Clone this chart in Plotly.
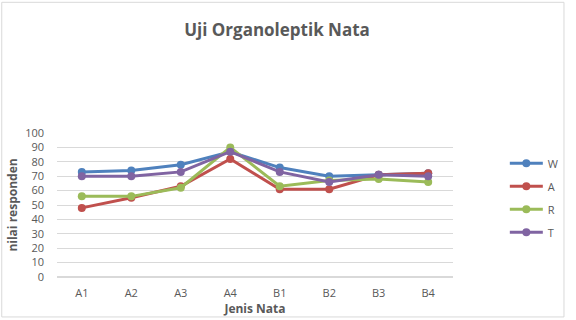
import plotly.graph_objects as go

categories = ["A1", "A2", "A3", "A4", "B1", "B2", "B3", "B4"]
W = [73, 74, 78, 87, 76, 70, 71, 72]
A = [48, 55, 63, 82, 61, 61, 71, 72]
R = [56, 56, 62, 90, 63, 67, 68, 66]
T = [70, 70, 73, 87, 73, 66, 71, 70]
series = [("W", W, "#4F81BD"), ("A", A, "#C0504D"), ("R", R, "#9BBB59"), ("T", T, "#8064A2")]

fig = go.Figure()
for i, (name, vals, col) in enumerate(series):
    fig.add_trace(go.Scatter(x=categories, y=vals, name=name, mode="lines+markers",
                             line=dict(color=col, width=3), marker=dict(color=col, size=8),
                             legendgroup=name))

L, Rm, Tm, B = 57, 114, 133, 41
W_px, H_px = 576 - L - Rm, 320 - Tm - B

fig.update_layout(
    width=576, height=320,
    margin=dict(l=L, r=Rm, t=Tm, b=B),
    paper_bgcolor="white", plot_bgcolor="white",
    font=dict(family="Open Sans", color="#595959", size=11),
    title=dict(text="<b>Uji Organoleptik Nata</b>", x=(282 - L) / W_px, xref="paper",
               xanchor="center", y=1 - 30 / 320, yanchor="middle",
               font=dict(size=17, color="#595959")),
    showlegend=True,
    legend=dict(x=(515 - L) / W_px, xanchor="left", y=(279 - 149) / H_px, yanchor="top",
                font=dict(size=11, color="#595959"), tracegroupgap=4, itemwidth=33,
                bgcolor="rgba(0,0,0,0)"),
    xaxis=dict(showgrid=False, showline=False, ticks="", tickfont=dict(size=11),
               ticklabelstandoff=8,
               title=dict(text="<b>Jenis Nata</b>", font=dict(size=12, color="#595959"), standoff=0)),
    yaxis=dict(range=[0, 100], dtick=10, showgrid=True, gridcolor="#D9D9D9", gridwidth=1,
               zeroline=True, zerolinecolor="#D9D9D9", showline=False, ticks="",
               tickfont=dict(size=11), ticklabelstandoff=12,
               title=dict(text="<b>nilai responden</b>", font=dict(size=12, color="#595959"), standoff=4)),
)

fig.add_shape(type="rect", xref="paper", yref="paper",
              x0=(0.5 - L) / W_px, x1=(575.5 - L) / W_px,
              y0=(279 - 319.5) / H_px, y1=(279 - 0.5) / H_px,
              line=dict(color="#D9D9D9", width=1), fillcolor="rgba(0,0,0,0)", layer="below")

fig.write_html("out.html")
